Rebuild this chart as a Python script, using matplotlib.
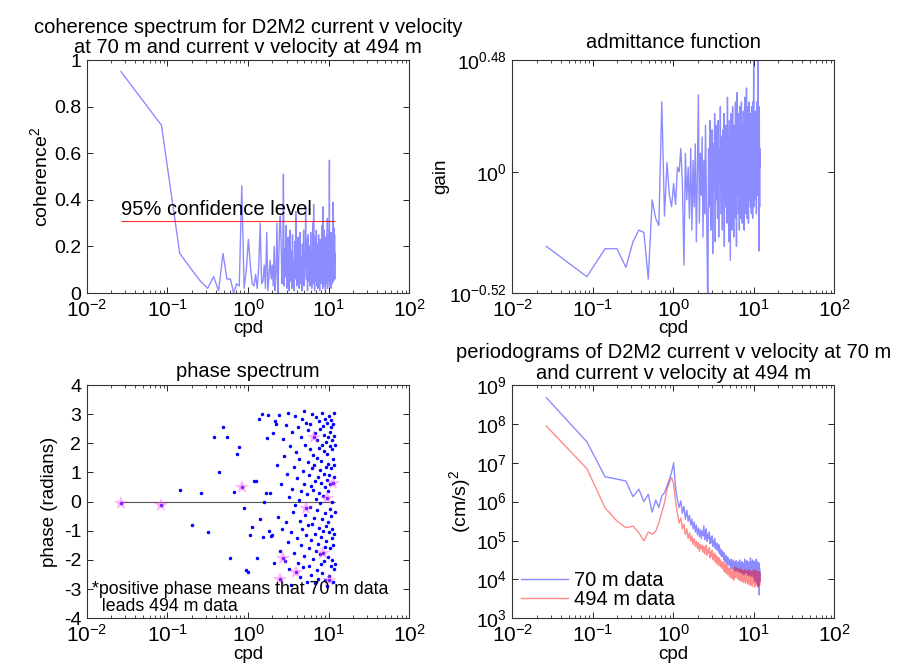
import numpy as np
import matplotlib
matplotlib.use("Agg")
import matplotlib.pyplot as plt
from matplotlib.ticker import NullLocator, FixedLocator

plt.rcParams['font.family'] = ['Liberation Sans', 'DejaVu Sans']
plt.rcParams['mathtext.default'] = 'regular'
plt.rcParams['axes.unicode_minus'] = False

# ---------------- data ----------------
f0 = 0.0266          # first frequency (cpd)
df = 0.0578          # frequency spacing (cpd)
n_freq = 207
freq = f0 + df * np.arange(n_freq)

conf_level = 0.31

coherence = [
    0.95, 0.72, 0.17, 0.10, 0.05, 0.02, 0.07, 0.01, 0.17, 0.06,
    0.06, 0.00, 0.04, 0.03, 0.46, 0.02, 0.10, 0.23, 0.12, 0.04,
    0.03, 0.08, 0.02, 0.11, 0.30, 0.04, 0.05, 0.12, 0.02, 0.26,
    0.01, 0.08, 0.14, 0.06, 0.12, 0.03, 0.20, 0.01, 0.09, 0.30,
    0.00, 0.13, 0.28, 0.33, 0.21, 0.04, 0.10, 0.51, 0.03, 0.19,
    0.07, 0.29, 0.02, 0.15, 0.24, 0.01, 0.11, 0.27, 0.05, 0.18,
    0.02, 0.25, 0.08, 0.14, 0.01, 0.22, 0.06, 0.35, 0.28, 0.03,
    0.12, 0.05, 0.24, 0.09, 0.02, 0.19, 0.26, 0.04, 0.11, 0.15,
    0.01, 0.21, 0.07, 0.13, 0.27, 0.03, 0.09, 0.18, 0.12, 0.37,
    0.14, 0.06, 0.23, 0.10, 0.01, 0.16, 0.25, 0.05, 0.12, 0.08,
    0.20, 0.03, 0.15, 0.26, 0.07, 0.11, 0.02, 0.18, 0.09, 0.30,
    0.04, 0.13, 0.38, 0.06, 0.16, 0.01, 0.24, 0.10, 0.05, 0.19,
    0.12, 0.27, 0.03, 0.08, 0.17, 0.21, 0.02, 0.14, 0.09, 0.25,
    0.06, 0.11, 0.18, 0.01, 0.23, 0.13, 0.07, 0.20, 0.04, 0.15,
    0.10, 0.26, 0.05, 0.29, 0.12, 0.02, 0.37, 0.08, 0.22, 0.14,
    0.03, 0.17, 0.27, 0.09, 0.13, 0.06, 0.21, 0.01, 0.16, 0.24,
    0.07, 0.12, 0.19, 0.04, 0.25, 0.10, 0.32, 0.02, 0.22, 0.08,
    0.18, 0.13, 0.27, 0.05, 0.11, 0.20, 0.57, 0.03, 0.14, 0.09,
    0.23, 0.06, 0.17, 0.12, 0.26, 0.02, 0.10, 0.21, 0.08, 0.15,
    0.19, 0.04, 0.13, 0.24, 0.07, 0.16, 0.39, 0.27, 0.05, 0.18,
    0.28, 0.09, 0.20, 0.12, 0.25, 0.06, 0.17,
]

log10_gain = [
    -0.32, -0.45, -0.33, -0.33, -0.41, -0.30, -0.25, -0.26, -0.46, -0.12,
    -0.20, -0.23, 0.30, -0.19, 0.04, -0.10, -0.15, -0.05, -0.14, 0.02,
    0.00, 0.10, -0.05, -0.40, 0.08, -0.12, 0.02, -0.20, 0.10, -0.25,
    0.05, -0.15, 0.12, -0.30, 0.00, 0.33, -0.22, 0.08, -0.10, 0.15,
    -0.28, 0.05, -0.18, 0.20, -0.05, -0.32, -0.62, 0.10, -0.15, 0.22,
    -0.25, 0.00, 0.18, -0.35, 0.12, -0.08, 0.25, -0.30, 0.20, -0.12,
    0.05, -0.20, 0.22, -0.28, 0.10, -0.05, 0.28, -0.18, 0.00, 0.15,
    -0.25, 0.18, -0.10, 0.25, -0.32, 0.08, -0.15, 0.20, -0.05, 0.12,
    -0.22, 0.32, -0.08, 0.15, -0.30, 0.22, 0.02, -0.18, -0.38, 0.25,
    -0.10, 0.18, -0.25, 0.10, 0.28, -0.15, 0.05, -0.28, 0.20, 0.00,
    0.15, -0.20, 0.30, -0.05, 0.12, -0.32, 0.22, 0.34, -0.10, 0.08,
    0.25, -0.18, 0.05, 0.18, -0.25, 0.28, -0.02, 0.12, -0.20, 0.22,
    0.02, 0.30, -0.12, 0.15, -0.22, 0.20, 0.08, -0.15, 0.26, -0.05,
    0.18, -0.25, 0.10, 0.32, -0.08, 0.14, -0.18, 0.24, 0.00, 0.12,
    0.36, -0.10, 0.20, -0.20, 0.06, 0.28, -0.05, 0.16, -0.22, 0.22,
    0.04, 0.30, -0.12, 0.10, 0.18, -0.08, 0.25, -0.15, 0.12, 0.02,
    0.20, -0.18, 0.28, 0.06, -0.10, 0.22, 0.14, -0.20, 0.30, 0.08,
    -0.05, 0.18, 0.52, 0.10, -0.15, 0.24, 0.04, 0.16, -0.12, 0.20,
    0.08, 0.26, -0.08, 0.14, 0.02, 0.22, -0.18, 0.12, 0.30, 0.05,
    0.18, -0.10, 0.24, 0.10, 0.06, 0.16, 0.52, -0.05, 0.20, 0.12,
    -0.34, 0.15, 0.28, 0.04, -0.15, 0.10, 0.02,
]

phase = [
    -0.05, -0.13, 0.40, -0.80, 0.29, -1.05, 2.23, 1.03, 2.57, 2.23,
    -1.94, 0.34, 1.63, 1.86, 0.51, -0.21, -2.36, -2.40, -1.14, -0.86,
    0.72, 0.72, -1.92, 2.82, -0.59, 3.00, -1.20, 0.00, 0.31, 2.17,
    2.98, -1.00, 0.31, -1.17, -1.15, 2.34, -2.09, 2.78, 2.65, 1.27,
    -0.52, 2.98, -1.68, -2.66, 0.62, -0.93, 2.15, -1.94, 1.55, -2.05,
    -0.70, 2.62, 0.95, -1.40, 3.05, -2.30, 0.15, 1.90, -1.05, -2.85,
    2.40, 0.45, -0.35, 1.20, -1.75, 2.95, -0.10, -2.42, 1.70, -1.25,
    0.80, 2.55, -2.10, 0.05, 1.45, -0.65, -2.60, 2.20, -1.50, 0.35,
    2.85, -0.95, 1.05, -2.25, 0.60, 3.10, -1.85, 1.95, -0.45, -0.21,
    2.70, -1.15, 0.25, -2.75, 1.35, -0.80, 2.45, -1.60, 0.90, -2.20,
    1.80, -0.20, 2.65, -1.30, 0.55, -2.50, 1.15, 3.00, -0.75, 1.60,
    -1.95, 0.40, 2.23, -0.55, 1.25, -2.80, 2.35, -1.10, 0.70, -1.70,
    2.90, 0.10, -2.35, 1.50, -0.30, 2.10, -1.45, 0.85, -2.65, 1.85,
    -0.90, 2.75, 0.30, -1.80, 1.10, -0.05, 2.50, -2.15, 0.65, -1.20,
    1.40, 3.05, -0.60, -2.45, 1.95, 0.20, -1.77, 2.60, -1.00, 0.95,
    -2.05, 1.75, 2.30, -0.40, -1.55, 0.50, 2.85, -2.70, 1.20, -0.85,
    2.05, -1.35, 0.75, -2.90, 1.65, 2.70, 0.11, -1.90, 0.35, 2.20,
    -0.70, 1.30, -2.55, 0.90, 2.95, -1.05, -2.69, 1.90, -0.25, 2.40,
    -1.60, 0.60, 2.80, -2.20, 1.15, -0.50, 2.55, -1.25, 0.00, 1.80,
    -2.00, 2.10, -0.95, 1.45, -2.75, 2.65, 0.65, -1.50, 0.85, 3.05,
    -2.30, 1.25, -1.10, 2.25, -0.35, 1.95, -2.15,
]

log10_psd_70m = [
    8.67, 7.54, 6.64, 6.58, 6.53, 6.13, 6.32, 6.00, 6.19, 5.73,
    6.04, 5.85, 6.15, 6.23, 6.40, 6.57, 6.75, 7.00, 6.35, 6.05,
    5.85, 6.02, 5.70, 5.88, 5.55, 5.78, 5.50, 5.65, 5.40, 5.55,
    5.30, 5.48, 5.22, 5.40, 5.15, 5.32, 5.10, 5.28, 5.05, 5.25,
    5.12, 5.38, 5.02, 5.20, 5.30, 4.98, 5.15, 5.05, 5.22, 4.92,
    5.08, 4.95, 5.12, 4.85, 5.00, 4.90, 5.05, 4.80, 4.95, 4.85,
    4.75, 4.92, 4.82, 4.70, 4.88, 4.65, 4.78, 4.72, 4.60, 4.75,
    4.58, 4.70, 4.62, 4.50, 4.68, 4.55, 4.45, 4.62, 4.52, 4.40,
    4.58, 4.48, 4.38, 4.55, 4.42, 4.50, 4.35, 4.48, 4.40, 4.30,
    4.52, 4.38, 4.45, 4.28, 4.42, 4.35, 4.50, 4.25, 4.40, 4.32,
    4.45, 4.22, 4.38, 4.30, 4.48, 4.25, 4.35, 4.42, 4.20, 4.38,
    4.30, 4.45, 4.22, 4.35, 4.28, 4.50, 4.18, 4.36, 4.25, 4.40,
    4.32, 4.20, 4.46, 4.28, 4.15, 4.38, 4.30, 4.42, 4.22, 4.35,
    4.12, 4.40, 4.28, 4.52, 4.20, 4.33, 4.25, 4.45, 4.18, 4.30,
    4.38, 4.22, 4.48, 4.15, 4.35, 4.28, 4.42, 4.10, 4.32, 4.25,
    4.45, 4.20, 4.36, 4.12, 4.30, 4.40, 4.18, 4.55, 4.25, 4.33,
    4.08, 4.38, 4.26, 4.45, 4.15, 4.30, 4.22, 4.50, 4.12, 4.35,
    4.28, 4.05, 4.42, 4.20, 4.33, 4.10, 4.46, 4.25, 3.95, 4.38,
    4.18, 4.30, 4.08, 4.40, 4.22, 4.52, 4.05, 4.32, 4.15, 4.28,
    3.90, 4.35, 4.20, 4.45, 4.10, 4.28, 3.80, 4.38, 4.15, 4.25,
    4.05, 4.42, 3.60, 4.30, 4.12, 4.20, 3.95,
]

log10_psd_494m = [
    7.94, 6.85, 5.84, 5.50, 5.33, 5.37, 5.20, 4.99, 5.22, 5.16,
    5.24, 5.46, 5.72, 5.97, 6.32, 6.50, 6.62, 6.45, 6.00, 5.70,
    5.45, 5.58, 5.30, 5.42, 5.15, 5.30, 5.05, 5.20, 4.98, 5.12,
    4.90, 5.05, 4.85, 4.98, 4.80, 4.95, 4.72, 4.90, 4.78, 4.88,
    4.70, 4.85, 4.65, 4.80, 4.88, 4.62, 4.75, 4.68, 4.82, 4.55,
    4.70, 4.60, 4.75, 4.50, 4.65, 4.58, 4.68, 4.45, 4.62, 4.52,
    4.40, 4.58, 4.48, 4.35, 4.55, 4.42, 4.50, 4.32, 4.46, 4.38,
    4.28, 4.45, 4.35, 4.22, 4.42, 4.30, 4.18, 4.38, 4.25, 4.15,
    4.35, 4.22, 4.12, 4.30, 4.18, 4.28, 4.08, 4.25, 4.15, 4.05,
    4.28, 4.12, 4.20, 4.02, 4.18, 4.10, 4.25, 3.98, 4.15, 4.08,
    4.32, 4.05, 4.22, 4.15, 4.30, 4.08, 4.20, 4.28, 4.02, 4.18,
    4.12, 4.25, 4.00, 4.20, 4.10, 4.28, 3.98, 4.15, 4.05, 4.22,
    4.12, 3.95, 4.25, 4.08, 4.00, 4.18, 4.10, 4.22, 3.92, 4.15,
    4.05, 4.20, 3.98, 4.25, 4.02, 4.12, 3.90, 4.18, 4.05, 4.10,
    4.22, 3.95, 4.15, 4.02, 4.20, 3.88, 4.12, 4.05, 4.25, 3.98,
    4.10, 3.92, 4.18, 4.05, 4.22, 3.85, 4.12, 4.00, 4.20, 3.95,
    4.15, 4.02, 3.88, 4.20, 4.05, 4.12, 3.82, 4.18, 4.00, 4.10,
    3.95, 4.22, 4.05, 3.90, 4.15, 4.02, 4.25, 3.80, 4.10, 3.98,
    4.18, 3.92, 4.08, 4.20, 3.85, 4.12, 4.00, 4.22, 3.95, 4.05,
    4.15, 3.88, 4.20, 4.02, 3.95, 4.10, 3.82, 4.18, 4.05, 3.98,
    4.20, 3.90, 4.12, 4.00, 3.85, 4.15, 3.95,
]

legend_labels = ['70 m data', '494 m data']

coherence = np.array(coherence)
gain = 10.0 ** np.array(log10_gain)
phase = np.array(phase)
psd_70 = 10.0 ** np.array(log10_psd_70m)
psd_494 = 10.0 ** np.array(log10_psd_494m)
signif = coherence > conf_level

# ---------------- figure ----------------
W, H = 897, 669
fig = plt.figure(figsize=(W / 100, H / 100), dpi=100)

ax1 = fig.add_axes([0.0967, 0.562, 0.3597, 0.3483])
ax2 = fig.add_axes([0.5711, 0.562, 0.359, 0.3483])
ax3 = fig.add_axes([0.0967, 0.0758, 0.3597, 0.3487])
ax4 = fig.add_axes([0.5711, 0.0758, 0.359, 0.3487])

line_blue = (0.0, 0.0, 1.0)
TFS = 14.5   # titles
LFS = 13.5   # axis labels
KFS = 14     # tick labels

for ax in (ax1, ax2, ax3, ax4):
    ax.set_xscale('log')
    ax.set_xlim(1e-2, 1e2)
    ax.tick_params(which='both', direction='in', top=True, right=True,
                   labelsize=KFS, colors='black')
    ax.tick_params(axis='x', which='major', labelsize=15)
    ax.tick_params(which='major', length=4, width=0.6, pad=4)
    ax.tick_params(which='minor', length=2, width=0.5)
    ax.set_xticks([1e-2, 1e-1, 1e0, 1e1, 1e2])
    for s in ax.spines.values():
        s.set_linewidth(0.8)
        s.set_color('#333333')
    ax.set_xlabel('cpd', fontsize=LFS, labelpad=0)

# coherence
ax1.plot(freq, coherence, color=line_blue, alpha=0.45, lw=1.0)
ax1.hlines(conf_level, freq[0], freq[-1], color='red', lw=0.8, alpha=0.8)
ax1.text(freq[0], conf_level + 0.008, '95% confidence level', fontsize=TFS,
         va='bottom', ha='left')
ax1.set_ylim(0, 1)
ax1.set_yticks([0, 0.2, 0.4, 0.6, 0.8, 1.0])
ax1.set_yticklabels(['0', '0.2', '0.4', '0.6', '0.8', '1'])
ax1.set_ylabel('coherence$^2$', fontsize=LFS + 0.5, labelpad=2)
ax1.set_title('coherence spectrum for D2M2 current v velocity\n'
              'at 70 m and current v velocity at 494 m', fontsize=TFS,
              linespacing=1.05, pad=5)

# admittance
ax2.plot(freq, gain, color=line_blue, alpha=0.45, lw=1.0)
ax2.set_yscale('log')
ax2.set_ylim(10 ** -0.52, 10 ** 0.48)
ax2.yaxis.set_major_locator(FixedLocator([10 ** -0.52, 1.0, 10 ** 0.48]))
ax2.yaxis.set_minor_locator(NullLocator())
ax2.set_yticklabels(['$10^{-0.52}$', '$10^{0}$', '$10^{0.48}$'])
ax2.set_ylabel('gain', fontsize=LFS, labelpad=0)
ax2.set_title('admittance function', fontsize=TFS, pad=9)

# phase
ax3.hlines(0, freq[0], freq[-1], color='#555555', lw=0.8)
ax3.plot(freq, phase, '.', color='blue', ms=3)
ax3.plot(freq[signif], phase[signif], '*', color='#ff55ff', alpha=0.45,
         ms=10, mew=0)
ax3.set_ylim(-4, 4)
ax3.set_yticks(np.arange(-4, 5, 1))
ax3.set_ylabel('phase (radians)', fontsize=LFS, labelpad=4)
ax3.set_title('phase spectrum', fontsize=TFS, pad=6)
ax3.text(0.016, 0.012, '*positive phase means that 70 m data\n  leads 494 m data',
         transform=ax3.transAxes, fontsize=12.8, va='bottom', ha='left',
         linespacing=1.0)

# periodograms
ax4.plot(freq, psd_70, color='blue', alpha=0.45, lw=1.0, label=legend_labels[0])
ax4.plot(freq, psd_494, color='red', alpha=0.45, lw=1.0, label=legend_labels[1])
ax4.set_yscale('log')
ax4.set_ylim(1e3, 1e9)
ax4.set_yticks([1e3, 1e4, 1e5, 1e6, 1e7, 1e8, 1e9])
ax4.set_ylabel('(cm/s)$^2$', fontsize=LFS + 0.5, labelpad=2)
ax4.set_title('periodograms of D2M2 current v velocity at 70 m\n'
              'and current v velocity at 494 m', fontsize=TFS,
              linespacing=1.15, pad=4)
ax4.legend(loc='lower left', frameon=False, fontsize=14.5, handlelength=2.3,
           borderaxespad=0.05, labelspacing=0.0, handletextpad=0.3)

fig.savefig('out.png', dpi=100)
